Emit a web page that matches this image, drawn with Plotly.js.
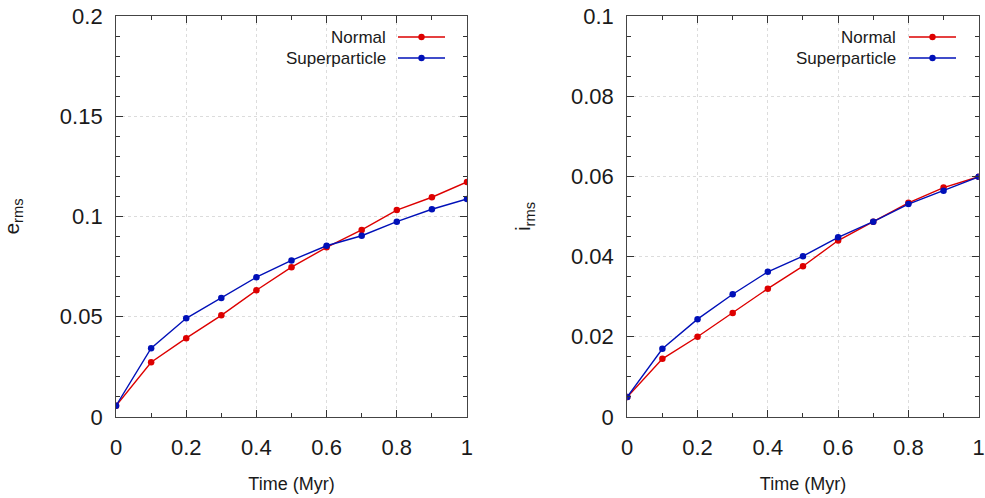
<!DOCTYPE html>
<html>
<head>
<meta charset="utf-8">
<script src="https://cdn.plot.ly/plotly-3.0.1.min.js"></script>
<style>html,body{margin:0;padding:0;background:#fff;}#chart{width:985px;height:498px;}</style>
</head>
<body>
<div id="chart"></div>
<script>
const time = [0, 0.1, 0.2, 0.3, 0.4, 0.5, 0.6, 0.7, 0.8, 0.9, 1.0];
const eNormal = [0.0056, 0.0273, 0.0393, 0.0507, 0.0632, 0.0747, 0.0846, 0.0933, 0.1032, 0.1096, 0.1172];
const eSuper  = [0.0056, 0.0343, 0.0492, 0.0594, 0.0697, 0.0781, 0.0854, 0.0904, 0.0974, 0.1036, 0.1087];
const iNormal = [0.0050, 0.0145, 0.0200, 0.0259, 0.0320, 0.0376, 0.0440, 0.0487, 0.0534, 0.0572, 0.0599];
const iSuper  = [0.0050, 0.0170, 0.0244, 0.0306, 0.0362, 0.0401, 0.0448, 0.0487, 0.0531, 0.0564, 0.0599];
const seriesNames = ["Normal", "Superparticle"];
const xTitle = "Time (Myr)";
const yTitles = ["e<sub>rms</sub>", "i<sub>rms</sub>"];

const RED = "#dd0000", BLUE = "#0010b8";
const FONT = "Liberation Sans, Arial, sans-serif";

function tr(y, name, color, xa, ya) {
  return {x: time, y: y, name: name, type: "scatter", mode: "lines+markers",
    xaxis: xa, yaxis: ya, showlegend: false,
    line: {color: color, width: 1.4}, marker: {color: color, size: 6.5}};
}
const data = [
  tr(eNormal, seriesNames[0], RED, "x", "y"),
  tr(eSuper, seriesNames[1], BLUE, "x", "y"),
  tr(iNormal, seriesNames[0], RED, "x2", "y2"),
  tr(iSuper, seriesNames[1], BLUE, "x2", "y2")
];

function xax(domain, anchor) {
  return {domain: domain, anchor: anchor, range: [0, 1], dtick: 0.2, tick0: 0,
    ticks: "inside", ticklen: 7, tickwidth: 1, tickcolor: "#333", mirror: "ticks",
    showline: true, linecolor: "#444", linewidth: 1,
    showgrid: true, gridcolor: "#dcdcdc", griddash: "dot", gridwidth: 1, zeroline: false,
    minor: {ticks: "inside", ticklen: 4, dtick: 0.1, tickcolor: "#333", showgrid: false},
    tickfont: {family: FONT, size: 22, color: "#1a1a1a"}, ticklabelstandoff: 11,
    title: {text: xTitle, font: {family: FONT, size: 18, color: "#1a1a1a"}, standoff: 18},
    fixedrange: true};
}
function yax(domain, anchor, max, dt, mdt, title) {
  return {domain: domain, anchor: anchor, range: [0, max], dtick: dt, tick0: 0,
    ticks: "inside", ticklen: 7, tickwidth: 1, tickcolor: "#333", mirror: "ticks",
    showline: true, linecolor: "#444", linewidth: 1,
    showgrid: true, gridcolor: "#dcdcdc", griddash: "dot", gridwidth: 1, zeroline: false,
    minor: {ticks: "inside", ticklen: 4, dtick: mdt, tickcolor: "#333", showgrid: false},
    tickfont: {family: FONT, size: 22, color: "#1a1a1a"}, ticklabelstandoff: 8,
    title: {text: title, font: {family: FONT, size: 21, color: "#1a1a1a"}, standoff: 34},
    fixedrange: true};
}

const yDom = [0.1627, 0.9679];
const layout = {
  width: 985, height: 498,
  margin: {l: 0, r: 0, t: 0, b: 0},
  paper_bgcolor: "#fff", plot_bgcolor: "#fff",
  showlegend: false,
  xaxis: xax([0.1178, 0.4741], "y"),
  yaxis: yax(yDom, "x", 0.2, 0.05, 0.01, yTitles[0]),
  xaxis2: xax([0.6368, 0.9936], "y2"),
  yaxis2: yax(yDom, "x2", 0.1, 0.02, 0.005, yTitles[1]),
  annotations: [], shapes: []
};

// Legend (text left of sample, gnuplot style)
const legends = [
  {textX: 388, lineX0: 398, lineX1: 445},
  {textX: 898, lineX0: 909, lineX1: 956}
];
const legendRowsY = [37, 58];
const colors = [RED, BLUE];
legends.forEach(lg => {
  seriesNames.forEach((nm, k) => {
    const yp = 1 - legendRowsY[k] / 498;
    layout.annotations.push({xref: "paper", yref: "paper", x: lg.textX / 985, y: yp,
      xanchor: "right", yanchor: "middle", showarrow: false, text: nm,
      font: {family: FONT, size: 17, color: "#1a1a1a"}});
    layout.shapes.push({type: "line", xref: "paper", yref: "paper",
      x0: lg.lineX0 / 985, x1: lg.lineX1 / 985, y0: yp, y1: yp,
      line: {color: colors[k], width: 1.4}});
    const cx = (lg.lineX0 + lg.lineX1) / 2, r = 3.2;
    layout.shapes.push({type: "circle", xref: "paper", yref: "paper",
      x0: (cx - r) / 985, x1: (cx + r) / 985, y0: yp - r / 498, y1: yp + r / 498,
      fillcolor: colors[k], line: {color: colors[k], width: 0}});
  });
});

Plotly.newPlot("chart", data, layout, {displayModeBar: false, staticPlot: true});
</script>
</body>
</html>
